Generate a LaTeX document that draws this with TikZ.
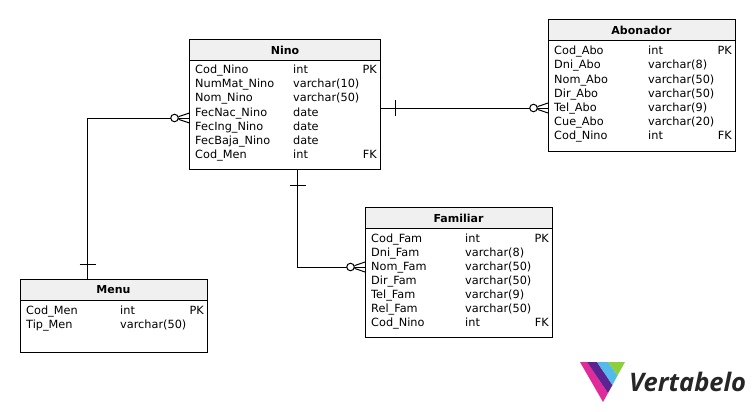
\documentclass[tikz,border=0pt]{standalone}
\usepackage{fontspec}
\setmainfont{DejaVu Sans}
\newfontfamily\logofont{Open Sans}
\usepackage{xcolor}
\definecolor{headgray}{RGB}{240,240,240}
\definecolor{logopink}{RGB}{226,43,154}
\definecolor{logopurple}{RGB}{92,36,144}
\definecolor{logoblue}{RGB}{84,186,236}
\definecolor{logogreen}{RGB}{140,208,60}
\tikzset{
    entbox/.style={draw, line width=1pt, inner sep=0pt, fill=white},
    headbox/.style={draw, line width=1pt, inner sep=0pt, fill=headgray, font=\fontsize{11}{12}\selectfont\bfseries},
    cell/.style={anchor=base west, inner sep=0pt, font=\fontsize{11.3}{12}\selectfont},
    keycell/.style={anchor=base east, inner sep=0pt, font=\fontsize{11.3}{12}\selectfont},
    rel/.style={line width=1pt},
    ringend/.style={draw, circle, line width=1pt, fill=white, minimum size=7.5pt, inner sep=0pt},
}
\begin{document}
\begin{tikzpicture}[x=1pt,y=-1pt]
    \useasboundingbox (0,0) rectangle (755,412);

    % tables
    \node[entbox, minimum width=191pt, minimum height=130pt] (nino) at (285,104.5) {};
    \node[headbox, minimum width=191pt, minimum height=21pt] (ninohead) at (285,50) {Nino};
    \node[cell] (nino1) at (195,74) {Cod\_Nino};
    \node[cell] (nino2) at (195,88) {NumMat\_Nino};
    \node[cell] (nino3) at (195,102) {Nom\_Nino};
    \node[cell] (nino4) at (195,116) {FecNac\_Nino};
    \node[cell] (nino5) at (195,130) {FecIng\_Nino};
    \node[cell] (nino6) at (195,144) {FecBaja\_Nino};
    \node[cell] (nino7) at (195,158) {Cod\_Men};
    \node[cell] (ninotype1) at (293,74) {int};
    \node[cell] (ninotype2) at (293,88) {varchar(10)};
    \node[cell] (ninotype3) at (293,102) {varchar(50)};
    \node[cell] (ninotype4) at (293,116) {date};
    \node[cell] (ninotype5) at (293,130) {date};
    \node[cell] (ninotype6) at (293,144) {date};
    \node[cell] (ninotype7) at (293,158) {int};
    \node[keycell] (ninokey1) at (377,74) {PK};
    \node[keycell] (ninokey7) at (377,158) {FK};

    \node[entbox, minimum width=187pt, minimum height=131pt] (abo) at (641.5,85.5) {};
    \node[headbox, minimum width=187pt, minimum height=21pt] (abohead) at (641.5,30.5) {Abonador};
    \node[cell] (abo1) at (554,55) {Cod\_Abo};
    \node[cell] (abo2) at (554,69) {Dni\_Abo};
    \node[cell] (abo3) at (554,83) {Nom\_Abo};
    \node[cell] (abo4) at (554,97) {Dir\_Abo};
    \node[cell] (abo5) at (554,111) {Tel\_Abo};
    \node[cell] (abo6) at (554,125) {Cue\_Abo};
    \node[cell] (abo7) at (554,139) {Cod\_Nino};
    \node[cell] (abotype1) at (648,55) {int};
    \node[cell] (abotype2) at (648,69) {varchar(8)};
    \node[cell] (abotype3) at (648,83) {varchar(50)};
    \node[cell] (abotype4) at (648,97) {varchar(50)};
    \node[cell] (abotype5) at (648,111) {varchar(9)};
    \node[cell] (abotype6) at (648,125) {varchar(20)};
    \node[cell] (abotype7) at (648,139) {int};
    \node[keycell] (abokey1) at (732,55) {PK};
    \node[keycell] (abokey7) at (732,139) {FK};

    \node[entbox, minimum width=187pt, minimum height=130pt] (fam) at (458.5,272.5) {};
    \node[headbox, minimum width=187pt, minimum height=21pt] (famhead) at (458.5,218) {Familiar};
    \node[cell] (fam1) at (371,242) {Cod\_Fam};
    \node[cell] (fam2) at (371,256) {Dni\_Fam};
    \node[cell] (fam3) at (371,270) {Nom\_Fam};
    \node[cell] (fam4) at (371,284) {Dir\_Fam};
    \node[cell] (fam5) at (371,298) {Tel\_Fam};
    \node[cell] (fam6) at (371,312) {Rel\_Fam};
    \node[cell] (fam7) at (371,326) {Cod\_Nino};
    \node[cell] (famtype1) at (465,242) {int};
    \node[cell] (famtype2) at (465,256) {varchar(8)};
    \node[cell] (famtype3) at (465,270) {varchar(50)};
    \node[cell] (famtype4) at (465,284) {varchar(50)};
    \node[cell] (famtype5) at (465,298) {varchar(9)};
    \node[cell] (famtype6) at (465,312) {varchar(50)};
    \node[cell] (famtype7) at (465,326) {int};
    \node[keycell] (famkey1) at (549,242) {PK};
    \node[keycell] (famkey7) at (549,326) {FK};

    \node[entbox, minimum width=187pt, minimum height=73pt] (menu) at (113.5,315.5) {};
    \node[headbox, minimum width=187pt, minimum height=21pt] (menuhead) at (113.5,289.5) {Menu};
    \node[cell] (menu1) at (26,314) {Cod\_Men};
    \node[cell] (menu2) at (26,328) {Tip\_Men};
    \node[cell] (menutype1) at (120,314) {int};
    \node[cell] (menutype2) at (120,328) {varchar(50)};
    \node[keycell] (menukey1) at (204,314) {PK};

    % relations
    \coordinate (ninoA) at (380.5,108);
    \coordinate (aboA) at (548,108);
    \coordinate (ninoF) at (297.5,169.5);
    \coordinate (famF) at (365,267);
    \coordinate (ninoM) at (189.5,118);
    \coordinate (menuM) at (87.5,279);
    \coordinate (tickA) at (395.5,108);
    \coordinate (tickF) at (297.5,185);
    \coordinate (tickM) at (87.5,264);

    \draw[rel] (ninoA) -- (aboA);
    \draw[rel] (ninoF) |- (famF);
    \draw[rel] (ninoM) -| (menuM);
    \draw[rel] ([yshift=-8pt]tickA) -- ([yshift=8pt]tickA);
    \draw[rel] ([xshift=-8pt]tickF) -- ([xshift=8pt]tickF);
    \draw[rel] ([xshift=-8pt]tickM) -- ([xshift=8pt]tickM);

    \node[ringend] (ringA) at (533.5,108) {};
    \draw[rel] (ringA) -- ([yshift=5pt]aboA);
    \draw[rel] (ringA) -- ([yshift=-5pt]aboA);
    \node[ringend] (ringF) at (350.5,267) {};
    \draw[rel] (ringF) -- ([yshift=5pt]famF);
    \draw[rel] (ringF) -- ([yshift=-5pt]famF);
    \node[ringend] (ringM) at (174.5,118) {};
    \draw[rel] (ringM) -- ([yshift=5pt]ninoM);
    \draw[rel] (ringM) -- ([yshift=-5pt]ninoM);

    % logo
    \fill[logopink] (580,362) -- (587,362) -- (608,393) -- (603,402) -- cycle;
    \fill[logopurple] (587,362) -- (597,362) -- (612.5,385) -- (608,393) -- cycle;
    \fill[logoblue] (597,362) -- (608,362) -- (617.5,375.5) -- (612.5,385) -- cycle;
    \fill[logogreen] (608,362) -- (625,362) -- (617.5,375.5) -- cycle;
    \node[anchor=base west, inner sep=0pt, text=black!85, font=\logofont\fontsize{25.5}{28}\selectfont\bfseries\itshape] (logotext) at (629,391) {Vertabelo};
\end{tikzpicture}
\end{document}
